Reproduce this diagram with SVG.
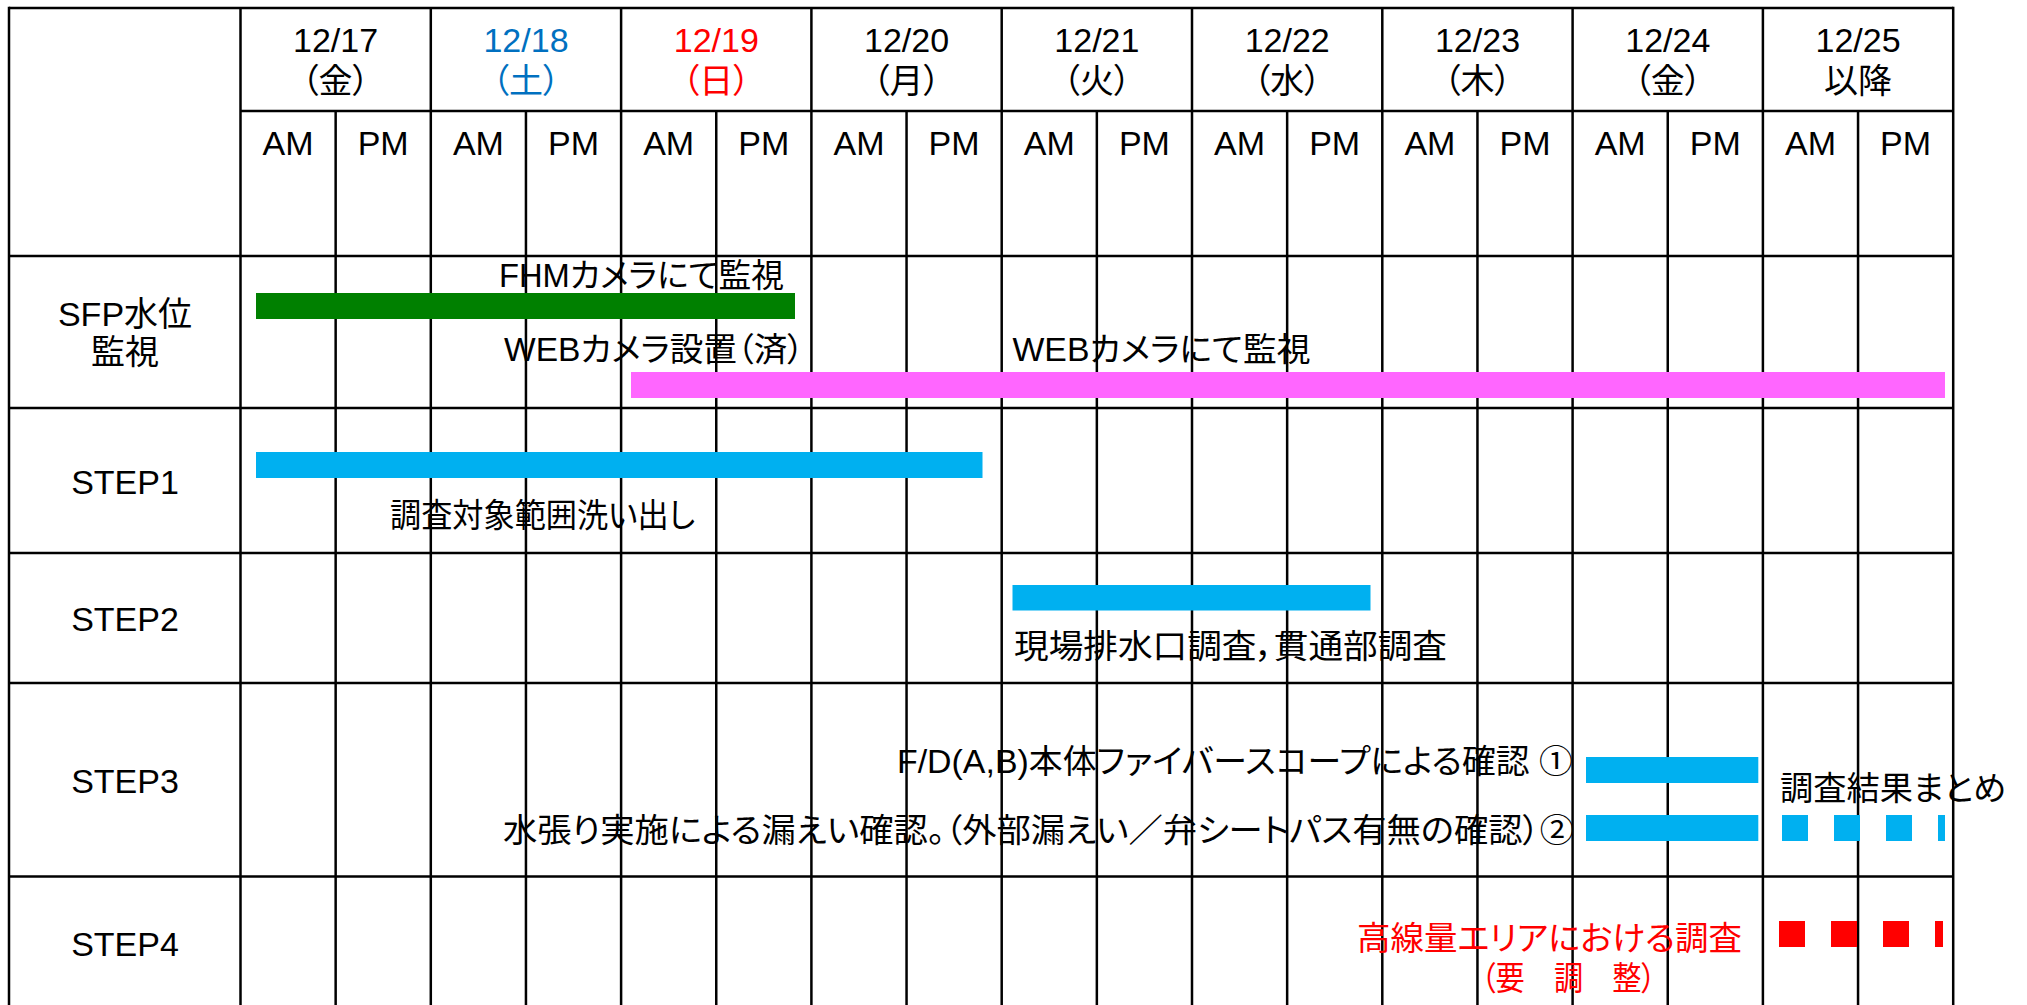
<svg xmlns="http://www.w3.org/2000/svg" width="2027" height="1005" viewBox="0 0 2027 1005">
<style>
text{font-family:"Liberation Sans","Noto Sans CJK JP",sans-serif;font-size:34px;fill:#000;font-feature-settings:"palt";}
.c{text-anchor:middle;}
.lbl{font-size:33px;}
.blue{fill:#0070C0;}
.red{fill:#FF0000;}
.g line{stroke:#000;stroke-width:2.5;}
</style>
<rect width="2027" height="1005" fill="#fff"/>
<g id="grid" class="g">
<line x1="9" y1="8" x2="1953.2" y2="8"/>
<line x1="9" y1="6.8" x2="9" y2="1005"/>
<line x1="1953.2" y1="6.8" x2="1953.2" y2="1005"/>
<line x1="240.5" y1="111" x2="1953.2" y2="111"/>
<line x1="9" y1="256" x2="1953.2" y2="256"/>
<line x1="9" y1="408" x2="1953.2" y2="408"/>
<line x1="9" y1="553" x2="1953.2" y2="553"/>
<line x1="9" y1="683" x2="1953.2" y2="683"/>
<line x1="9" y1="876.5" x2="1953.2" y2="876.5"/>
<line x1="240.5" y1="8" x2="240.5" y2="1005"/>
<line x1="430.8" y1="8" x2="430.8" y2="1005"/>
<line x1="621.1" y1="8" x2="621.1" y2="1005"/>
<line x1="811.4" y1="8" x2="811.4" y2="1005"/>
<line x1="1001.7" y1="8" x2="1001.7" y2="1005"/>
<line x1="1192" y1="8" x2="1192" y2="1005"/>
<line x1="1382.3" y1="8" x2="1382.3" y2="1005"/>
<line x1="1572.6" y1="8" x2="1572.6" y2="1005"/>
<line x1="1762.9" y1="8" x2="1762.9" y2="1005"/>
<line x1="335.65" y1="111" x2="335.65" y2="1005"/>
<line x1="525.95" y1="111" x2="525.95" y2="1005"/>
<line x1="716.25" y1="111" x2="716.25" y2="1005"/>
<line x1="906.55" y1="111" x2="906.55" y2="1005"/>
<line x1="1096.85" y1="111" x2="1096.85" y2="1005"/>
<line x1="1287.15" y1="111" x2="1287.15" y2="1005"/>
<line x1="1477.45" y1="111" x2="1477.45" y2="1005"/>
<line x1="1667.75" y1="111" x2="1667.75" y2="1005"/>
<line x1="1858.05" y1="111" x2="1858.05" y2="1005"/>
</g>
<g id="header-dates" class="c">
<text class="c" x="335.6" y="52">12/17</text><text class="c" x="335.6" y="93">（金）</text>
<text class="c blue" x="526" y="52">12/18</text><text class="c blue" x="526" y="93">（土）</text>
<text class="c red" x="716.3" y="52">12/19</text><text class="c red" x="716.3" y="93">（日）</text>
<text class="c" x="906.6" y="52">12/20</text><text class="c" x="906.6" y="93">（月）</text>
<text class="c" x="1096.9" y="52">12/21</text><text class="c" x="1096.9" y="93">（火）</text>
<text class="c" x="1287.2" y="52">12/22</text><text class="c" x="1287.2" y="93">（水）</text>
<text class="c" x="1477.5" y="52">12/23</text><text class="c" x="1477.5" y="93">（木）</text>
<text class="c" x="1667.8" y="52">12/24</text><text class="c" x="1667.8" y="93">（金）</text>
<text class="c" x="1858.1" y="52">12/25</text><text class="c" x="1858.1" y="93">以降</text>
</g>
<g id="header-ampm">
<text class="c" x="288.1" y="155">AM</text><text class="c" x="383.2" y="155">PM</text>
<text class="c" x="478.4" y="155">AM</text><text class="c" x="573.5" y="155">PM</text>
<text class="c" x="668.7" y="155">AM</text><text class="c" x="763.8" y="155">PM</text>
<text class="c" x="859" y="155">AM</text><text class="c" x="954.1" y="155">PM</text>
<text class="c" x="1049.3" y="155">AM</text><text class="c" x="1144.4" y="155">PM</text>
<text class="c" x="1239.6" y="155">AM</text><text class="c" x="1334.7" y="155">PM</text>
<text class="c" x="1429.9" y="155">AM</text><text class="c" x="1525" y="155">PM</text>
<text class="c" x="1620.2" y="155">AM</text><text class="c" x="1715.3" y="155">PM</text>
<text class="c" x="1810.5" y="155">AM</text><text class="c" x="1905.6" y="155">PM</text>
</g>
<g id="row-sfp">
<text class="c" x="125" y="326">SFP水位</text>
<text class="c" x="125" y="364">監視</text>
<rect x="256" y="293" width="539" height="26" fill="#008000"/>
<rect x="631" y="372" width="1314" height="26" fill="#FF66FF"/>
<text class="lbl" x="499" y="287" textLength="285" lengthAdjust="spacingAndGlyphs">FHMカメラにて監視</text>
<text class="lbl" x="504" y="361" textLength="300" lengthAdjust="spacingAndGlyphs">WEBカメラ設置（済）</text>
<text class="lbl" x="1012.5" y="361" textLength="298" lengthAdjust="spacingAndGlyphs">WEBカメラにて監視</text>
</g>
<g id="row-step1">
<text class="c" x="125" y="494">STEP1</text>
<rect x="256" y="452" width="726.5" height="26" fill="#00B0F0"/>
<text class="lbl" x="390" y="527" textLength="305" lengthAdjust="spacingAndGlyphs">調査対象範囲洗い出し</text>
</g>
<g id="row-step2">
<text class="c" x="125" y="631">STEP2</text>
<rect x="1012.5" y="585" width="358" height="25.5" fill="#00B0F0"/>
<text class="lbl" x="1014" y="658" textLength="433" lengthAdjust="spacingAndGlyphs">現場排水口調査，貫通部調査</text>
</g>
<g id="row-step3">
<text class="c" x="125" y="793">STEP3</text>
<rect x="1586" y="757" width="172.3" height="26" fill="#00B0F0"/>
<rect x="1586" y="815" width="172.3" height="26" fill="#00B0F0"/>
<line x1="1782" y1="828" x2="1945" y2="828" stroke="#00B0F0" stroke-width="26" stroke-dasharray="26 26"/>
<text class="lbl" x="897" y="773" textLength="676" lengthAdjust="spacingAndGlyphs">F/D(A,B)本体ファイバースコープによる確認 ①</text>
<text class="lbl" x="503" y="842" textLength="1071" lengthAdjust="spacingAndGlyphs">水張り実施による漏えい確認。（外部漏えい／弁シートパス有無の確認）②</text>
<text class="lbl" x="1780" y="800" textLength="226" lengthAdjust="spacingAndGlyphs">調査結果まとめ</text>
</g>
<g id="row-step4">
<text class="c" x="125" y="956">STEP4</text>
<line x1="1779" y1="934" x2="1943" y2="934" stroke="#FF0000" stroke-width="26" stroke-dasharray="26 26"/>
<text class="lbl red" x="1357" y="950" textLength="385" lengthAdjust="spacingAndGlyphs">高線量エリアにおける調査</text>
<text class="lbl red" x="1481" y="990" textLength="175" lengthAdjust="spacingAndGlyphs">（要　調　整）</text>
</g>
</svg>
